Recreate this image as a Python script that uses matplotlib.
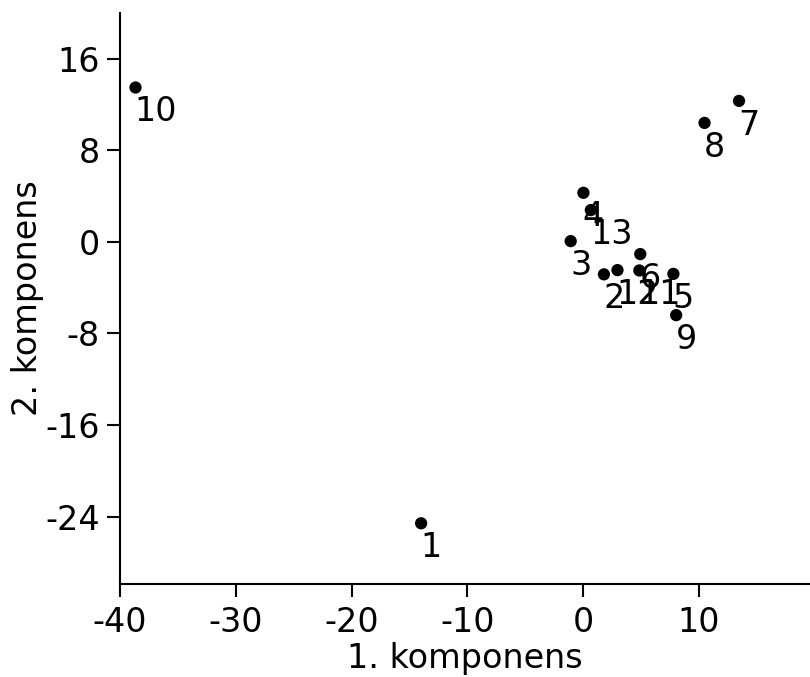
import matplotlib
matplotlib.use("Agg")
import matplotlib.pyplot as plt

labels = ["1", "2", "3", "4", "5", "6", "7", "8", "9", "10", "11", "12", "13"]
comp1 = [-13.99, 1.80, -1.07, 0.03, 7.80, 4.94, 13.47, 10.49, 8.04, -38.66, 4.86, 2.97, 0.67]
comp2 = [-24.57, -2.84, 0.06, 4.28, -2.80, -1.07, 12.30, 10.38, -6.40, 13.47, -2.50, -2.47, 2.77]

xticks = [-40, -30, -20, -10, 0, 10]
yticks = [-24, -16, -8, 0, 8, 16]

plt.rcParams['font.family'] = ['DejaVu Sans']
plt.rcParams['axes.unicode_minus'] = False

FS = 24

fig = plt.figure(figsize=(8.1, 6.77), dpi=100)
ax = fig.add_axes([0.14815, 0.13737, 0.85185, 0.84387])

ax.scatter(comp1, comp2, s=78, color='black', edgecolors='none', zorder=3)
for lab, x, y in zip(labels, comp1, comp2):
    ax.annotate(lab, (x, y), xytext=(-0.5, -5.5), textcoords='offset points',
                ha='left', va='top', fontsize=FS, color='black', zorder=4)

ax.set_xlim(-40, 19.6)
ax.set_ylim(-29.87, 20)
ax.set_xticks(xticks)
ax.set_yticks(yticks)
ax.set_xticklabels([str(t) for t in xticks])
ax.set_yticklabels([str(t) for t in yticks])

for s in ['top', 'right']:
    ax.spines[s].set_visible(False)
for s in ['left', 'bottom']:
    ax.spines[s].set_linewidth(1.5)
    ax.spines[s].set_color('black')

ax.tick_params(axis='both', direction='out', length=9.5, width=1.5, labelsize=FS, colors='black')
ax.tick_params(axis='x', pad=6.5)
ax.tick_params(axis='y', pad=5)

ax.set_xlabel("1. komponens", fontsize=FS, labelpad=2)
ax.set_ylabel("2. komponens", fontsize=FS, labelpad=1)

fig.savefig("out.png", dpi=100)
